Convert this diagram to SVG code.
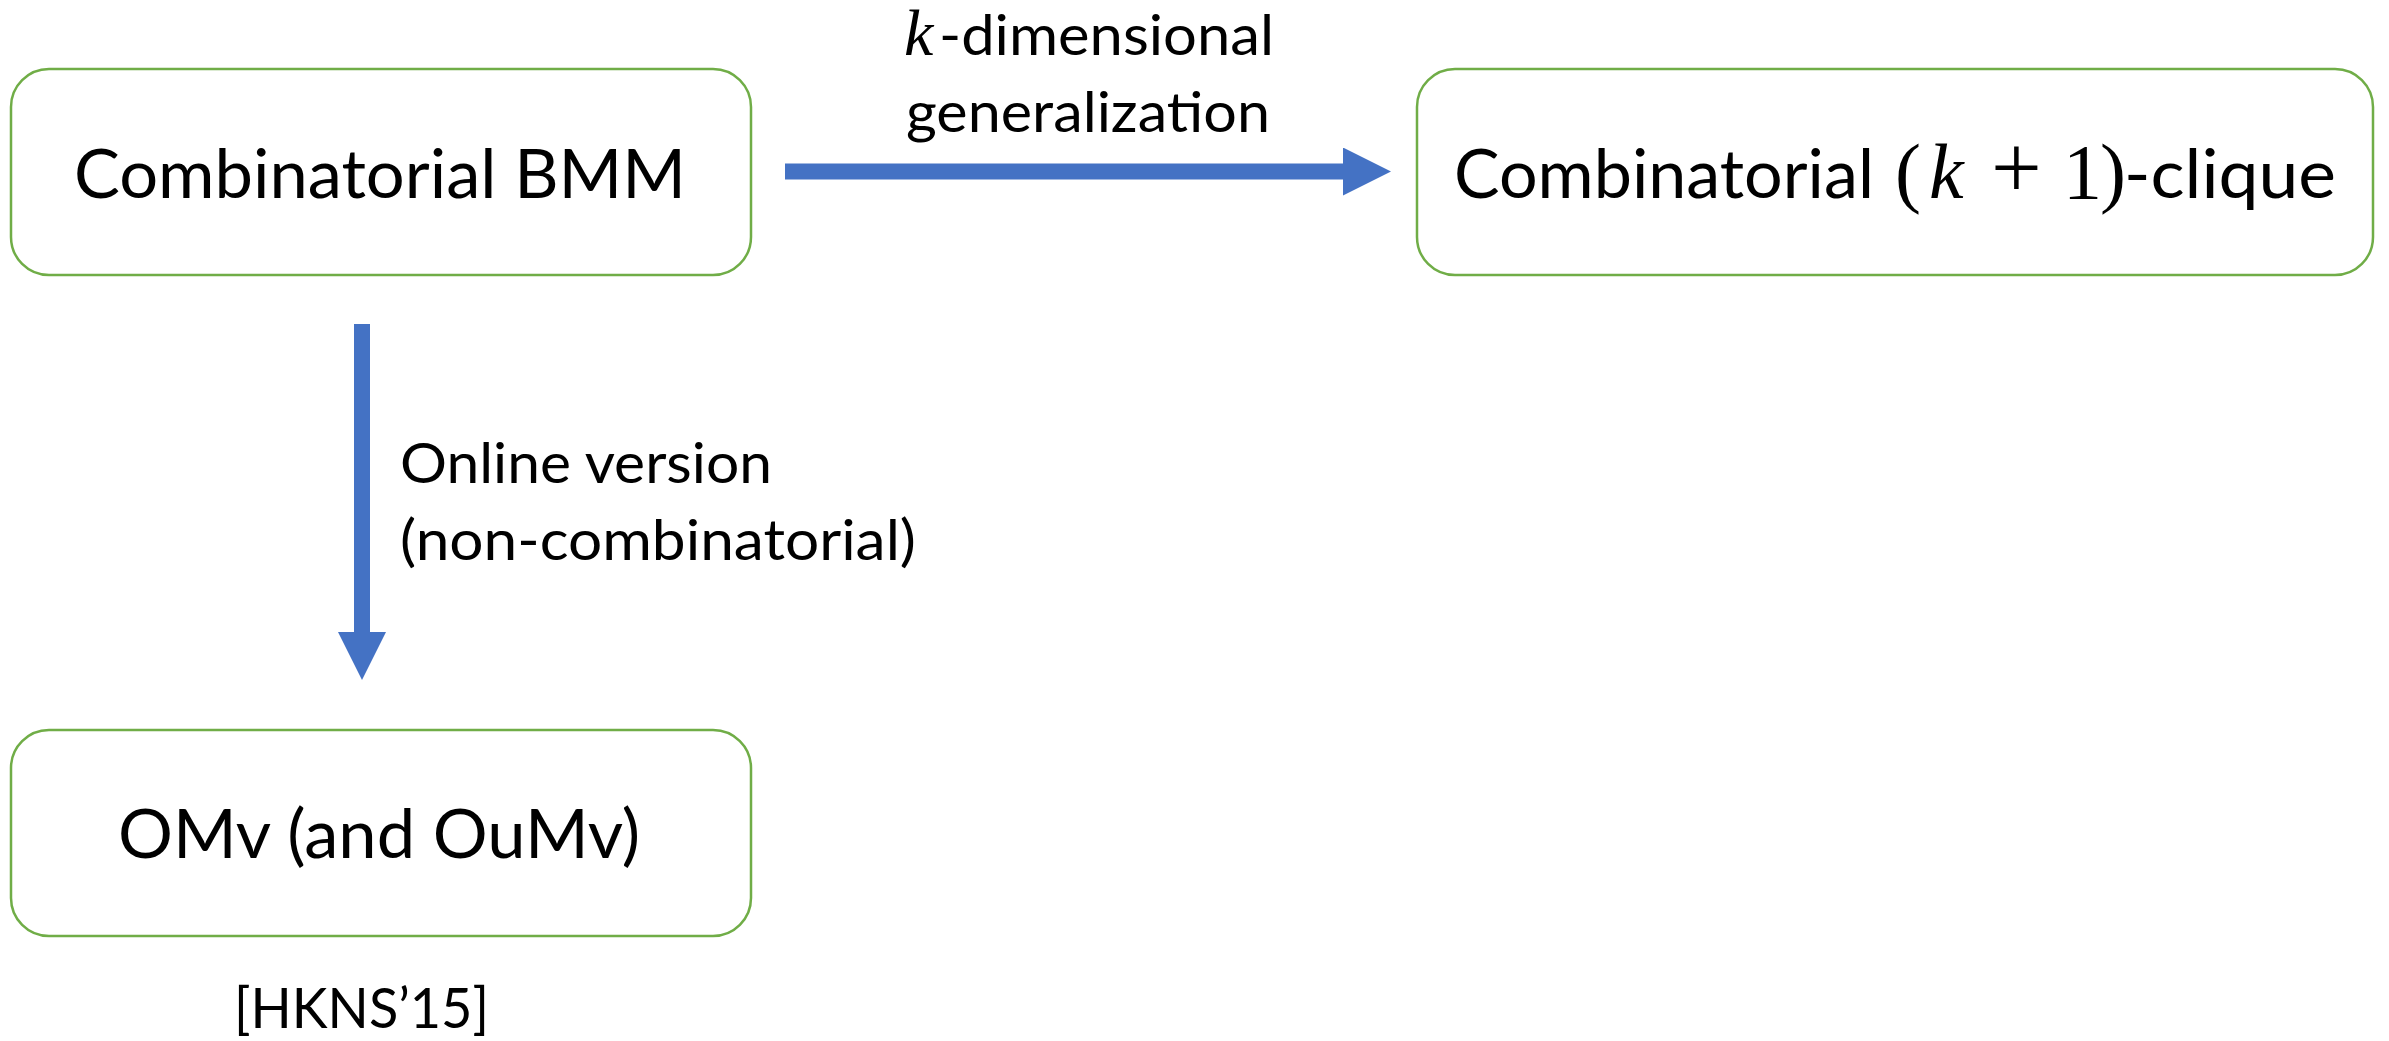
<svg xmlns="http://www.w3.org/2000/svg" width="2389" height="1041" viewBox="0 0 2389 1041">
  <style>
    .box { fill: #ffffff; stroke: #70AD47; stroke-width: 2.5; }
    .t { font-family: Lato, "Open Sans", "Liberation Sans", sans-serif; fill: #000000; }
    .big { font-size: 68px; }
    .lab { font-size: 56px; }
    .m { font-family: "Liberation Serif", "DejaVu Serif", serif; fill: #000000; }
    .mb { font-size: 78px; }
    .conn { stroke: #4472C4; stroke-width: 16; fill: none; marker-end: url(#head); }
  </style>
  <defs>
    <marker id="head" markerUnits="userSpaceOnUse" markerWidth="48" markerHeight="48" refX="0" refY="24" orient="auto" viewBox="0 0 48 48">
      <path d="M0,0 L48,24 L0,48 Z" fill="#4472C4"/>
    </marker>
  </defs>

  <rect width="2389" height="1041" fill="#ffffff"/>

  <!-- connectors -->
  <g id="connectors">
    <line class="conn" x1="785" y1="171.5" x2="1343" y2="171.5"/>
    <line class="conn" x1="362" y1="324" x2="362" y2="632"/>
    <g id="label-generalization">
      <text class="m" x="904" y="55" font-size="66" font-style="italic">k</text>
      <text class="t lab" x="939" y="55" textLength="335" lengthAdjust="spacingAndGlyphs">-dimensional</text>
      <text class="t lab" x="906" y="132" textLength="364" lengthAdjust="spacingAndGlyphs">generalization</text>
    </g>
    <g id="label-online">
      <text class="t lab" x="400" y="483" textLength="372" lengthAdjust="spacingAndGlyphs">Online version</text>
      <text class="t lab" x="400" y="560" textLength="516" lengthAdjust="spacingAndGlyphs">(non-combinatorial)</text>
    </g>
  </g>

  <!-- nodes -->
  <g id="node-bmm">
    <rect class="box" x="11" y="69" width="740" height="206" rx="38" ry="38"/>
    <text class="t big" x="74" y="198" textLength="612" lengthAdjust="spacingAndGlyphs">Combinatorial BMM</text>
  </g>

  <g id="node-clique">
    <rect class="box" x="1417" y="69" width="956" height="206" rx="38" ry="38"/>
    <text class="t big" x="1454" y="198" textLength="420" lengthAdjust="spacingAndGlyphs">Combinatorial</text>
    <text class="m mb" x="1895" y="198">(</text>
    <text class="m mb" x="1929" y="198" font-style="italic">k</text>
    <text class="m" font-size="90" x="1991" y="198">+</text>
    <text class="m mb" x="2063" y="198">1</text>
    <text class="m mb" x="2100" y="198">)</text>
    <text class="t big" x="2124" y="198" textLength="212" lengthAdjust="spacingAndGlyphs">-clique</text>
  </g>

  <g id="node-omv">
    <rect class="box" x="11" y="730" width="740" height="206" rx="38" ry="38"/>
    <text class="t big" x="118" y="858" textLength="522" lengthAdjust="spacingAndGlyphs">OMv (and OuMv)</text>
  </g>

  <g id="citation">
    <text class="t lab" x="234" y="1028" textLength="255" lengthAdjust="spacingAndGlyphs">[HKNS’15]</text>
  </g>
</svg>
